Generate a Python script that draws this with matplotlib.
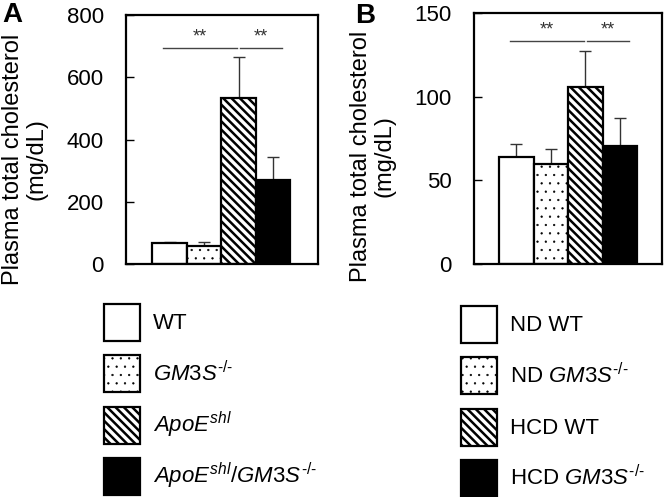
import matplotlib
matplotlib.use("Agg")
import matplotlib.pyplot as plt
import numpy as np

plt.rcParams['font.family'] = ['Liberation Sans', 'DejaVu Sans']
plt.rcParams['mathtext.fontset'] = 'custom'
plt.rcParams['mathtext.rm'] = 'Liberation Sans'
plt.rcParams['mathtext.it'] = 'Liberation Sans:italic'
plt.rcParams['mathtext.bf'] = 'Liberation Sans:bold'

# ---- data ----
labels_a = ['WT', r'$\mathit{GM3S}^{\mathit{‐/‐}}$', r'$\mathit{ApoE}^{\mathit{shl}}$',
            r'$\mathit{ApoE}^{\mathit{shl}}\mathit{/GM3S}^{\mathit{‐/‐}}$']
means_a = [66, 58, 532, 271]
errs_a = [5, 13, 133, 74]
sig_a = [(0, 2, 694), (2, 3, 694)]
yticks_a = [0, 200, 400, 600, 800]

labels_b = ['ND WT', r'ND $\mathit{GM3S}^{\mathit{‐/‐}}$', 'HCD WT', r'HCD $\mathit{GM3S}^{\mathit{‐/‐}}$']
means_b = [64, 60, 106, 70.5]
errs_b = [8, 9, 21.5, 17]
sig_b = [(0, 2, 133), (2, 3, 133)]
yticks_b = [0, 50, 100, 150]

styles = [dict(facecolor='white', hatch=None, hlw=1.0),
          dict(facecolor='white', hatch='..', hlw=0.4),
          dict(facecolor='white', hatch='\\\\\\\\', hlw=1.8),
          dict(facecolor='black', hatch=None, hlw=1.0)]

W, H = 667, 497
fig = plt.figure(figsize=(W / 100, H / 100), dpi=100)


def px(x0, y0, x1, y1):
    return [x0 / W, 1 - y1 / H, (x1 - x0) / W, (y1 - y0) / H]


def set_hlw(p, lw):
    if hasattr(p, 'set_hatch_linewidth'):
        p.set_hatch_linewidth(lw)


def panel(rect, means, errs, sig, yticks, xlim):
    ax = fig.add_axes(rect)
    x = np.arange(len(means))
    bars = []
    for i in range(len(means)):
        st = styles[i]
        with plt.rc_context({'hatch.linewidth': st['hlw']}):
            b = ax.bar(x[i], means[i], width=1.0, color=st['facecolor'],
                       hatch=st['hatch'], edgecolor='black', linewidth=1.6, zorder=2)
        for p in b:
            set_hlw(p, st['hlw'])
        bars.append(b)
    ax.errorbar(x, means, yerr=[np.zeros(len(errs)), errs], fmt='none',
                ecolor='#333333', elinewidth=1.0, capsize=4, capthick=1.0, zorder=1)
    ymax = yticks[-1]
    for (i0, i1, y) in sig:
        xa = i0 - 0.2 if i0 == 0 else i0 + 0.05
        xb = i1 - 0.05 if i0 == 0 else i1 + 0.25
        ax.plot([xa, xb], [y, y], color='#444444', lw=1.0)
        ax.text((xa + xb) / 2, y + ymax * 0.012, '**', ha='center', va='bottom',
                fontsize=13, color='#333333')
    ax.set_xlim(*xlim)
    ax.set_ylim(0, ymax)
    ax.set_yticks(yticks)
    ax.set_xticks([])
    ax.tick_params(axis='y', direction='in', length=6, width=1.0, pad=16, labelsize=16)
    for s in ax.spines.values():
        s.set_linewidth(1.6)
    return ax, bars


ax_a, bars_a = panel(px(126, 15, 318, 264), means_a, errs_a, sig_a, yticks_a, (-1.26, 4.3))
ax_b, bars_b = panel(px(474, 13, 662, 264), means_b, errs_b, sig_b, yticks_b, (-1.23, 4.22))

ylab = 'Plasma total cholesterol\n(mg/dL)'
fig.text(25 / W, 1 - 159 / H, ylab, rotation=90, ha='center', va='center',
         fontsize=17, multialignment='center', linespacing=1.1)
fig.text(373 / W, 1 - 156 / H, ylab, rotation=90, ha='center', va='center',
         fontsize=17, multialignment='center', linespacing=1.1)

fig.text(2 / W, 1 - 2 / H, 'A', fontsize=20, fontweight='bold', ha='left', va='top')
fig.text(355 / W, 1 - 3 / H, 'B', fontsize=20, fontweight='bold', ha='left', va='top')

leg_kw = dict(frameon=False, fontsize=16, handlelength=1.6, handleheight=2.19,
              handletextpad=0.6, labelspacing=0.64, borderpad=0, borderaxespad=0,
              loc='upper left')
for bars, labels, anchor in [(bars_a, labels_a, (104 / W, 1 - 304 / H)),
                             (bars_b, labels_b, (461 / W, 1 - 306 / H))]:
    leg = fig.legend([b[0] for b in bars], labels, bbox_to_anchor=anchor, **leg_kw)
    for h, st in zip(leg.legend_handles, styles):
        set_hlw(h, st['hlw'])

fig.savefig('out.png', dpi=100)
